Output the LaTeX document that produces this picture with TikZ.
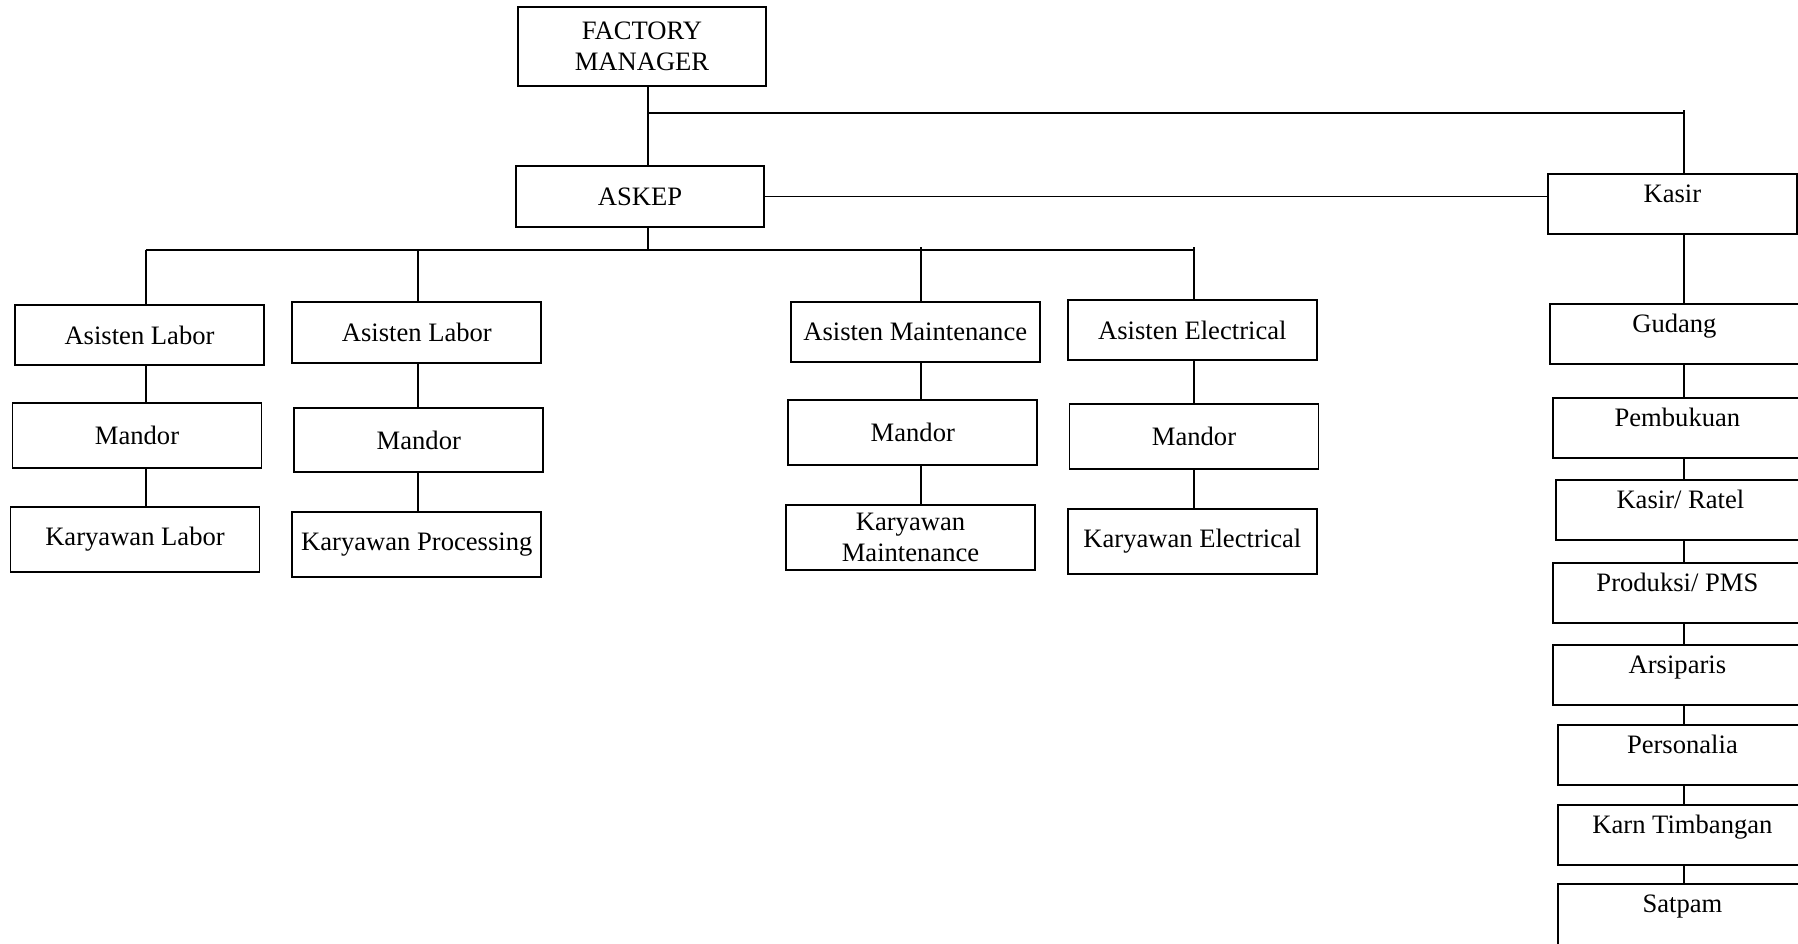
\documentclass[tikz,border=0pt]{standalone}
\usepackage{fontspec}
\setmainfont{Liberation Serif}
\begin{document}
\begin{tikzpicture}[x=0.5pt,y=-0.5pt,line width=0.9pt,
  txt/.style={font=\fontsize{13.3}{15.75}\selectfont},
  box/.style={txt,draw,line width=0.9pt,inner sep=0pt,minimum width=124.5pt,align=center},
  rbox/.style={txt,draw,line width=0.9pt,inner sep=0pt,anchor=north west,minimum width=124.5pt,text height=14.5pt,text depth=15.5pt,align=center},
  conn/.style={line width=0.9pt}]
\useasboundingbox (0,0) rectangle (1798,943);
% top
\node[box,minimum width=124pt,minimum height=39.5pt] (fm) at (642,46.5) {FACTORY\\MANAGER};
\node[box,minimum width=124pt,minimum height=30.5pt] (askep) at (640,196.5) {ASKEP};
% left columns
\node[box,minimum height=30pt] (al1) at (139.5,335) {Asisten Labor};
\node[box,minimum height=32.5pt] (m1) at (137,435.5) {Mandor};
\node[box,minimum height=32.5pt] (kl) at (135,539.5) {Karyawan Labor};
\node[box,minimum height=30.5pt] (al2) at (416.8,332.5) {Asisten Labor};
\node[box,minimum height=32pt] (m2) at (418.8,440) {Mandor};
\node[box,minimum height=32.5pt] (kp) at (416.8,544.5) {Karyawan Processing};
\node[box,minimum height=30pt] (am) at (915.2,332) {Asisten Maintenance};
\node[box,minimum height=32.5pt] (m3) at (912.8,432.5) {Mandor};
\node[box,minimum height=32.5pt] (km) at (910.5,537.5) {Karyawan\\Maintenance};
\node[box,minimum height=30pt] (ae) at (1192.3,330) {Asisten Electrical};
\node[box,minimum height=32.5pt] (m4) at (1194,436.5) {Mandor};
\node[box,minimum height=32.5pt] (ke) at (1192.3,541.5) {Karyawan Electrical};
% right column
\node[rbox] (kasir) at (1547,173) {Kasir};
\node[rbox] (gudang) at (1549,303) {Gudang};
\node[rbox] (pemb) at (1552,397) {Pembukuan};
\node[rbox] (ratel) at (1555,479) {Kasir/ Ratel};
\node[rbox] (prod) at (1552,562) {Produksi/ PMS};
\node[rbox] (arsip) at (1552,644) {Arsiparis};
\node[rbox] (pers) at (1557,724) {Personalia};
\node[rbox] (karn) at (1557,804) {Karn Timbangan};
\node[rbox,text depth=16.5pt] (satpam) at (1557,883) {Satpam};
% coordinates
\coordinate (t1) at (648,113);
\coordinate (t2) at (1684,110);
\coordinate (bus) at (648,250);
\coordinate (c1) at (145.7,250);
\coordinate (c2) at (417.9,250);
\coordinate (c3) at (921.1,247);
\coordinate (c4) at (1193.9,247);
\coordinate (rc) at (1684,0);
% connectors top
\draw[conn] (fm.south -| t1) -- (askep.north -| t1);
\draw[conn] (t1) -- (t1 -| t2);
\draw[conn] (t2) -- (kasir.north -| t2);
\draw[conn] (askep.east) -- (askep.east -| kasir.west);
\draw[conn] (askep.south -| bus) -- (bus);
\draw[conn] (c1) -- (bus -| c4);
% columns
\draw[conn] (c1) -- (al1.north -| c1);
\draw[conn] (al1.south -| c1) -- (m1.north -| c1);
\draw[conn] (m1.south -| c1) -- (kl.north -| c1);
\draw[conn] (c2) -- (al2.north -| c2);
\draw[conn] (al2.south -| c2) -- (m2.north -| c2);
\draw[conn] (m2.south -| c2) -- (kp.north -| c2);
\draw[conn] (c3) -- (am.north -| c3);
\draw[conn] (am.south -| c3) -- (m3.north -| c3);
\draw[conn] (m3.south -| c3) -- (km.north -| c3);
\draw[conn] (c4) -- (ae.north -| c4);
\draw[conn] (ae.south -| c4) -- (m4.north -| c4);
\draw[conn] (m4.south -| c4) -- (ke.north -| c4);
% right chain
\draw[conn] (kasir.south -| rc) -- (gudang.north -| rc);
\draw[conn] (gudang.south -| rc) -- (pemb.north -| rc);
\draw[conn] (pemb.south -| rc) -- (ratel.north -| rc);
\draw[conn] (ratel.south -| rc) -- (prod.north -| rc);
\draw[conn] (prod.south -| rc) -- (arsip.north -| rc);
\draw[conn] (arsip.south -| rc) -- (pers.north -| rc);
\draw[conn] (pers.south -| rc) -- (karn.north -| rc);
\draw[conn] (karn.south -| rc) -- (satpam.north -| rc);
\end{tikzpicture}
\end{document}
